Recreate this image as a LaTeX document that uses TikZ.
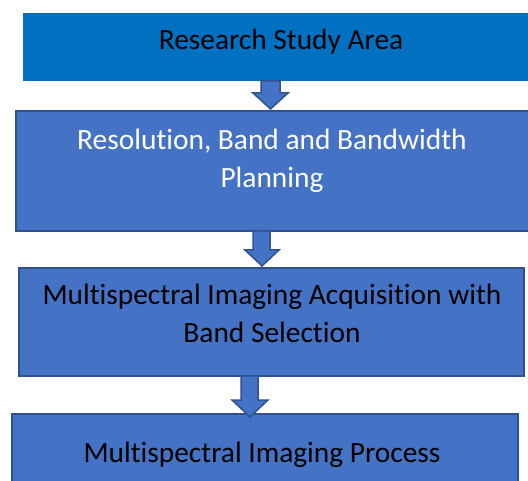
\documentclass[tikz,border=0pt]{standalone}
\usepackage{fontspec}
\setmainfont[RawFeature={-liga;-clig;-calt;-rlig}]{Carlito}
\definecolor{topblue}{HTML}{0070C0}
\definecolor{boxblue}{HTML}{4472C4}
\definecolor{edgeblue}{HTML}{2F528F}
\tikzset{
  topbox/.style={rectangle, fill=topblue, inner sep=0pt, outer sep=0pt},
  stagebox/.style={rectangle, fill=boxblue, draw=edgeblue, line width=2pt, inner sep=0pt, outer sep=0pt},
  lbl/.style={anchor=base, inner sep=0pt, font=\fontsize{29.4}{38}\selectfont},
  fatarrow/.style={fill=boxblue, draw=edgeblue, line width=1.5pt, line join=miter}
}
\begin{document}
\begin{tikzpicture}[x=1pt,y=-1pt]
\useasboundingbox (0,0) rectangle (528,481);
% boxes
\node[topbox, minimum width=507pt, minimum height=68pt] (b1) at (276.5,47) {};
\node[stagebox, minimum width=515pt, minimum height=120pt] (b2) at (273.5,171) {};
\node[stagebox, minimum width=505pt, minimum height=108pt] (b3) at (271.5,322) {};
\node[stagebox, minimum width=506pt, minimum height=76pt] (b4) at (265,452) {};
% labels
\node[lbl, text=black] (t1) at (281,50) {Research Study Area};
\node[lbl, text=white] (t2a) at (272,150) {Resolution, Band and Bandwidth};
\node[lbl, text=white] (t2b) at (272,188) {Planning};
\node[lbl, text=black] (t3a) at (272,305) {Multispectral Imaging Acquisition with};
\node[lbl, text=black] (t3b) at (272,343) {Band Selection};
\node[lbl, text=black] (t4) at (262,462) {Multispectral Imaging Process};
% block arrows
\draw[fatarrow] (261,0 |- b1.south) -- (280,0 |- b1.south) -- (280,93) -- (288,93)
  -- (270.5,109) -- (253,93) -- (261,93) -- cycle;
\draw[fatarrow] (253,0 |- b2.south) -- (270,0 |- b2.south) -- (270,250) -- (279,250)
  -- (262,266) -- (245,250) -- (253,250) -- cycle;
\draw[fatarrow] (241,0 |- b3.south) -- (258,0 |- b3.south) -- (258,400) -- (268,400)
  -- (250,417) -- (232,400) -- (241,400) -- cycle;
\end{tikzpicture}
\end{document}
